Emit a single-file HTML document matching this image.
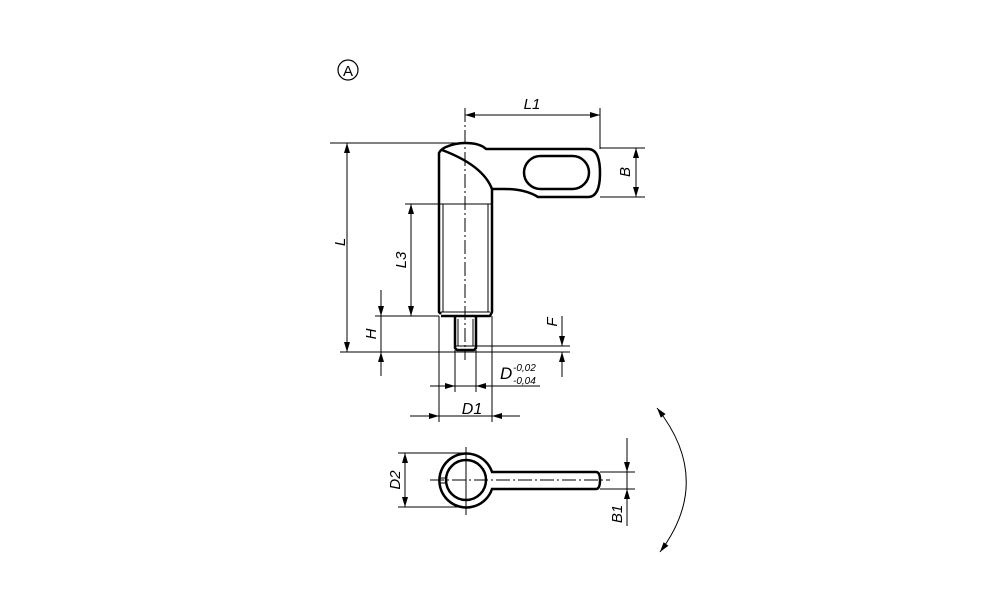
<!DOCTYPE html>
<html><head><style>html,body{margin:0;padding:0;background:#fff}svg{display:block}text{font-family:"Liberation Sans",sans-serif;font-style:italic;fill:#000}</style></head><body>
<svg width="1000" height="611" viewBox="0 0 1000 611" xmlns="http://www.w3.org/2000/svg">
<defs><marker id="a" viewBox="0 0 10 6" refX="10" refY="3" markerWidth="11" markerHeight="6" orient="auto-start-reverse" markerUnits="userSpaceOnUse"><path d="M0,0L10,3L0,6z" fill="#000"/></marker></defs>
<circle cx="348" cy="70" r="10" fill="none" stroke="#000" stroke-width="1.2"/>
<text x="348" y="76" font-size="15" text-anchor="middle" style="font-style:normal">A</text>
<g fill="none" stroke="#000" stroke-width="2.5" stroke-linejoin="round">
<path d="M441,314 L439,312 L439,153 Q441,149 446,147 Q455,143 465,143 Q480,143 486,149 L588,149 Q600,149 600,173 Q600,197 588,197 L538,197 Q525,189 505,189 L492,189 L492,312 L490,316 L441,316"/>
<path d="M442,150 C458,156 484,168 492,189"/>
<rect x="524" y="156" width="65" height="33" rx="16.5"/>
<path d="M455,316 L455,348 L457,350 L474,350 L476,348 L476,316"/>
</g>
<g fill="none" stroke="#000" stroke-width="1">
<line x1="439" y1="204" x2="492" y2="204"/><line x1="443" y1="204" x2="443" y2="312"/><line x1="488" y1="204" x2="488" y2="312"/><line x1="441" y1="312" x2="490" y2="312"/>
<line x1="458" y1="319" x2="458" y2="346"/><line x1="473" y1="319" x2="473" y2="346"/><line x1="455" y1="346" x2="476" y2="346"/>
<line x1="465" y1="108" x2="465" y2="360" stroke-dasharray="14,3,2,3"/>
<line x1="330" y1="143" x2="465" y2="143"/><line x1="340" y1="352" x2="470" y2="352"/>
<line x1="347" y1="143" x2="347" y2="352" marker-start="url(#a)" marker-end="url(#a)"/>
<line x1="465" y1="115" x2="600" y2="115" marker-start="url(#a)" marker-end="url(#a)"/>
<line x1="600" y1="108" x2="600" y2="149"/>
<line x1="600" y1="148" x2="645" y2="148"/><line x1="600" y1="197" x2="645" y2="197"/>
<line x1="636" y1="148" x2="636" y2="197" marker-start="url(#a)" marker-end="url(#a)"/>
<line x1="405" y1="204" x2="439" y2="204"/>
<line x1="411" y1="204" x2="411" y2="316" marker-start="url(#a)" marker-end="url(#a)"/>
<line x1="375" y1="316" x2="439" y2="316"/>
<line x1="381" y1="290" x2="381" y2="316" marker-end="url(#a)"/><line x1="381" y1="376" x2="381" y2="352" marker-end="url(#a)"/><line x1="381" y1="316" x2="381" y2="352"/>
<line x1="476" y1="346" x2="570" y2="346"/><line x1="470" y1="352" x2="570" y2="352"/>
<line x1="562" y1="316" x2="562" y2="346" marker-end="url(#a)"/><line x1="562" y1="377" x2="562" y2="352" marker-end="url(#a)"/>
<line x1="455" y1="350" x2="455" y2="392"/><line x1="476" y1="350" x2="476" y2="392"/>
<line x1="430" y1="386" x2="455" y2="386" marker-end="url(#a)"/><line x1="540" y1="386" x2="476" y2="386" marker-end="url(#a)"/><line x1="455" y1="386" x2="476" y2="386"/>
<line x1="439" y1="316" x2="439" y2="422"/><line x1="492" y1="316" x2="492" y2="422"/>
<line x1="410" y1="416" x2="439" y2="416" marker-end="url(#a)"/><line x1="520" y1="416" x2="492" y2="416" marker-end="url(#a)"/><line x1="439" y1="416" x2="492" y2="416"/>
</g>
<text transform="translate(345,242) rotate(-90)" font-size="15" text-anchor="middle">L</text>
<text x="532" y="109" font-size="15" text-anchor="middle">L1</text>
<text transform="translate(630,172) rotate(-90)" font-size="15" text-anchor="middle">B</text>
<text transform="translate(406,260) rotate(-90)" font-size="15" text-anchor="middle">L3</text>
<text transform="translate(376,334) rotate(-90)" font-size="15" text-anchor="middle">H</text>
<text transform="translate(557,322) rotate(-90)" font-size="15" text-anchor="middle">F</text>
<text x="500" y="379" font-size="17">D</text>
<text x="513" y="371" font-size="10">-0,02</text>
<text x="513" y="384" font-size="10">-0,04</text>
<text x="472" y="414" font-size="16" text-anchor="middle">D1</text>
<g fill="none" stroke="#000" stroke-width="2.5">
<path d="M492,472 A27,27 0 1 0 492,489 L596,489 Q600,489 600,480 Q600,472 596,472 Z"/>
<circle cx="466" cy="480" r="20"/>
</g>
<g fill="none" stroke="#000" stroke-width="1">
<line x1="440" y1="478" x2="446" y2="478"/><line x1="440" y1="483" x2="446" y2="483"/>
<line x1="466" y1="447" x2="466" y2="515"/>
<line x1="430" y1="480" x2="610" y2="480" stroke-dasharray="14,3,2,3"/>
<line x1="398" y1="453" x2="466" y2="453"/><line x1="398" y1="507" x2="466" y2="507"/>
<line x1="405" y1="453" x2="405" y2="507" marker-start="url(#a)" marker-end="url(#a)"/>
<line x1="600" y1="472" x2="635" y2="472"/><line x1="600" y1="489" x2="635" y2="489"/>
<line x1="627" y1="438" x2="627" y2="472" marker-end="url(#a)"/><line x1="627" y1="526" x2="627" y2="489" marker-end="url(#a)"/><line x1="627" y1="472" x2="627" y2="489"/>
<path d="M657,408 Q714,480 660,552" marker-start="url(#a)" marker-end="url(#a)"/>
</g>
<text transform="translate(400,480) rotate(-90)" font-size="15" text-anchor="middle">D2</text>
<text transform="translate(622,514) rotate(-90)" font-size="15" text-anchor="middle">B1</text>
</svg>
</body></html>
